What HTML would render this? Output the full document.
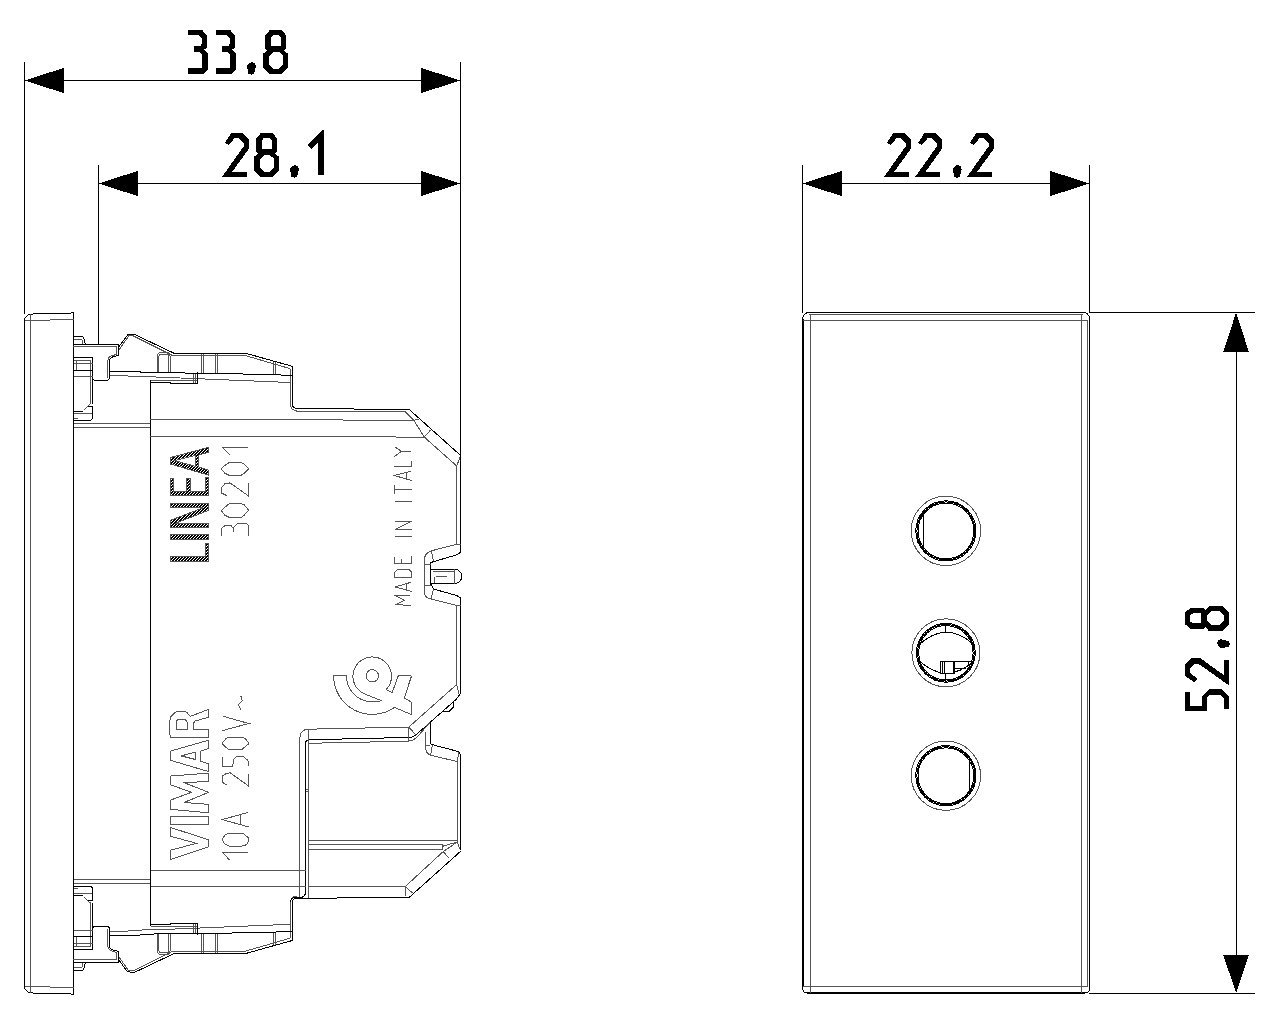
<!DOCTYPE html><html><head><meta charset="utf-8"><title>drawing</title><style>html,body{margin:0;padding:0;background:#fff;width:1280px;height:1024px;overflow:hidden}svg{display:block;font-family:"Liberation Sans",sans-serif}</style></head><body>
<svg width="1280" height="1024" viewBox="0 0 1280 1024" shape-rendering="crispEdges">
<defs><pattern id="h" patternUnits="userSpaceOnUse" width="3.2" height="3.2"><path d="M-1,1 L1,-1 M0,3.2 L3.2,0 M2.2,4.2 L4.2,2.2" stroke="#000" stroke-width="1.05"/></pattern></defs>
<rect width="1280" height="1024" fill="#fff"/>
<path d="M24.5,62 L24.5,313.5" stroke="#000" stroke-width="1" fill="none" />
<path d="M460.5,62 L460.5,456" stroke="#000" stroke-width="1" fill="none" />
<path d="M40,80.5 L445,80.5" stroke="#000" stroke-width="1.0" fill="none" />
<path d="M24.50,80.50 L63.80,67.90 L63.80,93.10 Z" fill="#000"/>
<path d="M460.50,80.50 L421.00,67.90 L421.00,93.10 Z" fill="#000"/>
<path d="M188.00,29.90 L202.00,29.90 L207.00,35.30 L207.00,47.50 L203.90,49.60 L207.90,53.10 L207.90,69.50 L203.90,73.90 L188.00,73.90 L188.00,68.10 L202.00,68.10 L202.00,55.00 L199.20,52.20 L194.10,52.20 L194.10,46.10 L200.10,46.10 L201.60,44.20 L201.60,38.10 L198.70,34.80 L188.00,34.80 Z" fill="#000" fill-rule="evenodd"/>
<path d="M216.00,29.90 L230.00,29.90 L235.00,35.30 L235.00,47.50 L231.90,49.60 L235.90,53.10 L235.90,69.50 L231.90,73.90 L216.00,73.90 L216.00,68.10 L230.00,68.10 L230.00,55.00 L227.20,52.20 L222.10,52.20 L222.10,46.10 L228.10,46.10 L229.60,44.20 L229.60,38.10 L226.70,34.80 L216.00,34.80 Z" fill="#000" fill-rule="evenodd"/>
<path d="M247.00,65.30 L251.20,62.00 L255.00,63.00 L255.90,66.20 L255.00,70.00 L254.00,73.70 L251.70,74.90 L248.40,73.70 L247.50,69.00 Z" fill="#000" fill-rule="evenodd"/>
<path d="M269.90,30.00 L282.05,30.00 L286.10,35.60 L286.10,48.30 L284.00,50.60 L288.10,53.90 L288.10,67.60 L282.05,73.90 L269.90,73.90 L263.00,67.60 L263.00,53.90 L267.10,50.60 L265.30,48.30 L265.30,35.60 Z M270.90,38.10 L272.90,34.90 L279.00,34.90 L281.00,38.10 L281.00,45.80 L270.90,45.80 Z M268.80,56.50 L273.40,51.90 L278.90,51.90 L283.10,55.90 L283.10,64.50 L278.90,68.60 L273.40,68.60 L268.80,64.50 Z" fill="#000" fill-rule="evenodd"/>
<path d="M98.5,165 L98.5,344.5" stroke="#000" stroke-width="1" fill="none" />
<path d="M110,183.5 L445,183.5" stroke="#000" stroke-width="1.0" fill="none" />
<path d="M98.50,183.50 L137.80,170.90 L137.80,196.10 Z" fill="#000"/>
<path d="M460.50,183.50 L421.00,170.90 L421.00,196.10 Z" fill="#000"/>
<path d="M231.30,133.00 L242.50,133.00 L249.10,139.30 L249.10,148.40 L231.90,172.30 L247.10,172.30 L247.10,176.90 L222.00,176.90 L243.60,146.40 L243.60,142.90 L238.60,138.10 L234.50,138.10 L228.60,145.30 L225.00,142.60 Z" fill="#000" fill-rule="evenodd"/>
<path d="M260.80,133.00 L272.95,133.00 L277.00,138.60 L277.00,151.30 L274.90,153.60 L279.00,156.90 L279.00,170.60 L272.95,176.90 L260.80,176.90 L253.90,170.60 L253.90,156.90 L258.00,153.60 L256.20,151.30 L256.20,138.60 Z M261.80,141.10 L263.80,137.90 L269.90,137.90 L271.90,141.10 L271.90,148.80 L261.80,148.80 Z M259.70,159.50 L264.30,154.90 L269.80,154.90 L274.00,158.90 L274.00,167.50 L269.80,171.60 L264.30,171.60 L259.70,167.50 Z" fill="#000" fill-rule="evenodd"/>
<path d="M290.00,168.30 L294.20,165.00 L298.00,166.00 L298.90,169.20 L298.00,173.00 L297.00,176.70 L294.70,177.90 L291.40,176.70 L290.50,172.00 Z" fill="#000" fill-rule="evenodd"/>
<path d="M322.40,130.00 L324.10,130.00 L324.10,174.80 L317.90,174.80 L317.90,142.90 L311.40,148.70 L308.00,145.00 Z" fill="#000" fill-rule="evenodd"/>
<path d="M802.5,165 L802.5,312.5" stroke="#000" stroke-width="1" fill="none" />
<path d="M1089.5,165 L1089.5,312.5 L1255,312.5" stroke="#000" stroke-width="1" fill="none" />
<path d="M815,183.5 L1075,183.5" stroke="#000" stroke-width="1.0" fill="none" />
<path d="M802.50,183.50 L841.80,170.90 L841.80,196.10 Z" fill="#000"/>
<path d="M1089.50,183.50 L1050.20,170.90 L1050.20,196.10 Z" fill="#000"/>
<path d="M893.30,133.00 L904.50,133.00 L911.10,139.30 L911.10,148.40 L893.90,172.30 L909.10,172.30 L909.10,176.90 L884.00,176.90 L905.60,146.40 L905.60,142.90 L900.60,138.10 L896.50,138.10 L890.60,145.30 L887.00,142.60 Z" fill="#000" fill-rule="evenodd"/>
<path d="M924.50,133.00 L935.70,133.00 L942.30,139.30 L942.30,148.40 L925.10,172.30 L940.30,172.30 L940.30,176.90 L915.20,176.90 L936.80,146.40 L936.80,142.90 L931.80,138.10 L927.70,138.10 L921.80,145.30 L918.20,142.60 Z" fill="#000" fill-rule="evenodd"/>
<path d="M952.80,168.30 L957.00,165.00 L960.80,166.00 L961.70,169.20 L960.80,173.00 L959.80,176.70 L957.50,177.90 L954.20,176.70 L953.30,172.00 Z" fill="#000" fill-rule="evenodd"/>
<path d="M976.30,133.00 L987.50,133.00 L994.10,139.30 L994.10,148.40 L976.90,172.30 L992.10,172.30 L992.10,176.90 L967.00,176.90 L988.60,146.40 L988.60,142.90 L983.60,138.10 L979.50,138.10 L973.60,145.30 L970.00,142.60 Z" fill="#000" fill-rule="evenodd"/>
<path d="M1089,993 L1255,993" stroke="#000" stroke-width="1" fill="none" />
<path d="M1236.5,330 L1236.5,975" stroke="#000" stroke-width="1.0" fill="none" />
<path d="M1236.10,312.50 L1223.35,351.80 L1248.85,351.80 Z" fill="#000"/>
<path d="M1236.10,993.00 L1223.35,955.20 L1248.85,955.20 Z" fill="#000"/>
<g transform="matrix(0,-1,1,0,1185.1,710.75)">
<path d="M0.00,0.00 L18.50,0.00 L18.50,4.80 L4.80,4.80 L4.80,16.90 L14.20,16.90 L21.75,24.20 L21.75,36.50 L14.20,43.80 L1.90,43.80 L1.90,38.90 L12.60,38.90 L15.85,35.70 L15.85,24.90 L12.60,21.70 L0.00,21.70 Z" fill="#000" fill-rule="evenodd"/>
<path d="M34.65,0.00 L45.85,0.00 L52.45,6.30 L52.45,15.40 L35.25,39.30 L50.45,39.30 L50.45,43.90 L25.35,43.90 L46.95,13.40 L46.95,9.90 L41.95,5.10 L37.85,5.10 L31.95,12.30 L28.35,9.60 Z" fill="#000" fill-rule="evenodd"/>
<path d="M62.60,35.30 L66.80,32.00 L70.60,33.00 L71.50,36.20 L70.60,40.00 L69.60,43.70 L67.30,44.90 L64.00,43.70 L63.10,39.00 Z" fill="#000" fill-rule="evenodd"/>
<path d="M86.45,0.00 L98.60,0.00 L102.65,5.60 L102.65,18.30 L100.55,20.60 L104.65,23.90 L104.65,37.60 L98.60,43.90 L86.45,43.90 L79.55,37.60 L79.55,23.90 L83.65,20.60 L81.85,18.30 L81.85,5.60 Z M87.45,8.10 L89.45,4.90 L95.55,4.90 L97.55,8.10 L97.55,15.80 L87.45,15.80 Z M85.35,26.50 L89.95,21.90 L95.45,21.90 L99.65,25.90 L99.65,34.50 L95.45,38.60 L89.95,38.60 L85.35,34.50 Z" fill="#000" fill-rule="evenodd"/>
</g>
<path d="M802.8,318.4 A6,6 0 0 1 808.8,312.5 L1083.4,312.5 A6,6 0 0 1 1089.5,318.5 L1089.5,988.5 A4.5,4.5 0 0 1 1085,993 L807,993 A4.5,4.5 0 0 1 802.8,988.5 Z" stroke="#000" stroke-width="1" fill="none" />
<path d="M806,992 L1085,992" stroke="#000" stroke-width="1" fill="none" />
<path d="M803.5,319 L803.5,987" stroke="#000" stroke-width="1" fill="none" />
<path d="M809,314.5 L1083,314.5" stroke="#555" stroke-width="1" fill="none" />
<path d="M803,320.5 L1087.5,320.5" stroke="#555" stroke-width="1" fill="none" />
<path d="M803,986.5 L1087.5,986.5" stroke="#555" stroke-width="1" fill="none" />
<path d="M810.5,314.5 L810.5,992.5" stroke="#555" stroke-width="1" fill="none" />
<path d="M1081.5,314.5 L1081.5,992.5" stroke="#555" stroke-width="1" fill="none" />
<path d="M1087.5,320 L1087.5,987" stroke="#555" stroke-width="1" fill="none" />
<circle cx="945.9" cy="530.9" r="34.7" fill="none" stroke="#555" stroke-width="1"/>
<circle cx="945.9" cy="530.9" r="30.10" fill="none" stroke="#000" stroke-width="1"/>
<circle cx="945.9" cy="530.9" r="29.00" fill="none" stroke="#000" stroke-width="1"/>
<circle cx="945.9" cy="530.9" r="27.90" fill="none" stroke="#000" stroke-width="1"/>
<circle cx="945.9" cy="652.8" r="34.0" fill="none" stroke="#555" stroke-width="1"/>
<circle cx="945.9" cy="652.8" r="29.40" fill="none" stroke="#000" stroke-width="1"/>
<circle cx="945.9" cy="652.8" r="28.30" fill="none" stroke="#000" stroke-width="1"/>
<circle cx="945.9" cy="652.8" r="27.20" fill="none" stroke="#000" stroke-width="1"/>
<circle cx="945.9" cy="775.7" r="34.7" fill="none" stroke="#555" stroke-width="1"/>
<circle cx="945.9" cy="775.7" r="30.10" fill="none" stroke="#000" stroke-width="1"/>
<circle cx="945.9" cy="775.7" r="29.00" fill="none" stroke="#000" stroke-width="1"/>
<circle cx="945.9" cy="775.7" r="27.90" fill="none" stroke="#000" stroke-width="1"/>
<path d="M923.3,513.3 L923.3,547.6" stroke="#000" stroke-width="1" fill="none" />
<path d="M969,758.6 L969,792.4" stroke="#000" stroke-width="1" fill="none" />
<path d="M917.6,646 Q945.7,619 974.3,645.1" stroke="#000" stroke-width="1.0" fill="none" />
<path d="M917.6,659.2 Q945.7,686.6 974.3,660.5" stroke="#000" stroke-width="1.0" fill="none" />
<path d="M945.5,626.3 L945.5,632.4" stroke="#000" stroke-width="1" fill="none" />
<path d="M945.5,673.3 L945.5,681.2" stroke="#000" stroke-width="1" fill="none" />
<path d="M940.5,661.2 L954.5,661.2 L954.5,673.3 L940.5,673.3 Z" stroke="#000" stroke-width="1.0" fill="#fff" />
<path d="M942.3,662 L942.3,673 M944,662 L944,673 M953,662 L953,673" stroke="#000" stroke-width="1" fill="none" />
<path d="M954.5,661.2 L970.7,661.2 M968.1,661.2 L968.1,665.4 M954.5,668.4 L965.5,668.4" stroke="#000" stroke-width="1" fill="none" />
<g stroke-linejoin="round">
<path d="M24.5,653.4 L24.5,318.5 L28.5,314.5 L33,314.5 M33,313.5 L71,313.5 M71,312.5 L73.5,312.5 L73.5,653.4" stroke="#000" stroke-width="1" fill="none" />
<path d="M30.5,653.4 L30.5,314" stroke="#555" stroke-width="1" fill="none" />
<path d="M24.8,320.5 L50,320.5 M50,319.5 L73.5,319.5" stroke="#555" stroke-width="1" fill="none" />
<path d="M73.5,336.3 L82.5,336.3 L84.5,339.5 L85.3,344.3" stroke="#000" stroke-width="1" fill="none" />
<path d="M73.5,339.5 L82,339.5 L82.3,344" stroke="#555" stroke-width="1" fill="none" />
<path d="M73.5,344.3 L118,344.3 L118,355.5 L111.5,357.3 Q109.6,358.3 109.6,361 L109.6,378.5 L107.9,380.3 L94,380.3 L92.5,378" stroke="#000" stroke-width="1" fill="none" />
<path d="M73.5,346.8 L116.8,347 L116.8,354.3 L110.3,356.3 Q107.9,357.6 107.9,360.5 L107.9,378" stroke="#555" stroke-width="1" fill="none" />
<path d="M73.5,357.8 L92.5,357.8 L92.5,403.7" stroke="#000" stroke-width="1" fill="none" />
<path d="M73.5,360.6 L90.4,360.6 L90.4,403.7 L84,410" stroke="#555" stroke-width="1" fill="none" />
<path d="M76.3,360.6 L76.3,370.6 M73.5,363.4 L92.5,363.4" stroke="#555" stroke-width="1" fill="none" />
<path d="M73.5,370.7 L92.5,370.7" stroke="#000" stroke-width="1" fill="none" />
<path d="M73.5,376.2 L92.5,376.2" stroke="#555" stroke-width="1" fill="none" />
<path d="M88.4,406.3 L92.3,406.3 L92.3,418.8 L90.8,420.4 L73.5,420.4" stroke="#000" stroke-width="1" fill="none" />
<path d="M73.5,411.4 L83,411.4" stroke="#000" stroke-width="1" fill="none" />
<path d="M73.5,413.4 L92.3,413.4" stroke="#555" stroke-width="1" fill="none" />
<path d="M73.5,418.4 L77.5,418.4" stroke="#555" stroke-width="1" fill="none" />
<path d="M73.5,423.5 L150.5,423.5" stroke="#555" stroke-width="1" fill="none" />
<path d="M73.5,427.4 L150.5,427.4" stroke="#555" stroke-width="1" fill="none" />
<path d="M118,348 L127.5,335 L134.4,334.4 L173.75,353.1 L245,353.1 L292.3,366.3 L292.3,404.5 Q292.6,408.3 296.5,408.3 L409.5,409.7 L460.5,455.4" stroke="#000" stroke-width="1" fill="none" />
<path d="M119,349.8 L128.8,335.8 L133.5,336 L172.5,355.5 L245,355.5 L290,368.6 L290,403 Q290.5,410.6 296.5,410.6" stroke="#555" stroke-width="1" fill="none" />
<path d="M157.5,372.5 L157.5,355.5 Q157.5,352.5 160.5,352.5 L167,352.5 Q170,352.5 170,355.5 L170,372.5" stroke="#555" stroke-width="1" fill="none" />
<path d="M158.9,372.5 L158.9,356 Q159,354.2 161,354.2 L166.5,354.2 Q168.7,354.2 168.7,356 L168.7,372.5" stroke="#555" stroke-width="1" fill="none" />
<path d="M201.3,353.5 L201.3,373 M203,353.5 L203,373 M215,353.5 L215,373 M217,353.5 L217,373" stroke="#555" stroke-width="1" fill="none" />
<path d="M273,362 L273,375 M275,362 L275,375" stroke="#555" stroke-width="1" fill="none" />
<path d="M109.5,371.6 L140,371.6 L141,372.7 L198,373.1 L272.5,374.6 L292.3,375.6" stroke="#000" stroke-width="1" fill="none" />
<path d="M109.5,375.5 L127.5,375.5 L128.5,376.6 L156,377 L290,382.5" stroke="#555" stroke-width="1" fill="none" />
<path d="M150.5,653.4 L150.5,380.4" stroke="#000" stroke-width="1" fill="none" />
<path d="M150.5,380.4 L196.8,380.4" stroke="#555" stroke-width="1" fill="none" />
<path d="M150.5,382.6 L170.6,382.6 L170.6,383.4 L197.3,383.4 L197.3,372.2" stroke="#000" stroke-width="1" fill="none" />
<path d="M193.8,373.5 L193.8,383 M195.6,373.5 L195.6,383" stroke="#555" stroke-width="1" fill="none" />
<g transform="matrix(1,0,0,-1,0,1306.8)">
<path d="M24.5,653.4 L24.5,318.5 L28.5,314.5 L33,314.5 M33,313.5 L71,313.5 M71,312.5 L73.5,312.5 L73.5,653.4" stroke="#000" stroke-width="1" fill="none" />
<path d="M30.5,653.4 L30.5,314" stroke="#555" stroke-width="1" fill="none" />
<path d="M24.8,320.5 L50,320.5 M50,319.5 L73.5,319.5" stroke="#555" stroke-width="1" fill="none" />
<path d="M73.5,336.3 L82.5,336.3 L84.5,339.5 L85.3,344.3" stroke="#000" stroke-width="1" fill="none" />
<path d="M73.5,339.5 L82,339.5 L82.3,344" stroke="#555" stroke-width="1" fill="none" />
<path d="M73.5,344.3 L118,344.3 L118,355.5 L111.5,357.3 Q109.6,358.3 109.6,361 L109.6,378.5 L107.9,380.3 L94,380.3 L92.5,378" stroke="#000" stroke-width="1" fill="none" />
<path d="M73.5,346.8 L116.8,347 L116.8,354.3 L110.3,356.3 Q107.9,357.6 107.9,360.5 L107.9,378" stroke="#555" stroke-width="1" fill="none" />
<path d="M73.5,357.8 L92.5,357.8 L92.5,403.7" stroke="#000" stroke-width="1" fill="none" />
<path d="M73.5,360.6 L90.4,360.6 L90.4,403.7 L84,410" stroke="#555" stroke-width="1" fill="none" />
<path d="M76.3,360.6 L76.3,370.6 M73.5,363.4 L92.5,363.4" stroke="#555" stroke-width="1" fill="none" />
<path d="M73.5,370.7 L92.5,370.7" stroke="#000" stroke-width="1" fill="none" />
<path d="M73.5,376.2 L92.5,376.2" stroke="#555" stroke-width="1" fill="none" />
<path d="M88.4,406.3 L92.3,406.3 L92.3,418.8 L90.8,420.4 L73.5,420.4" stroke="#000" stroke-width="1" fill="none" />
<path d="M73.5,411.4 L83,411.4" stroke="#000" stroke-width="1" fill="none" />
<path d="M73.5,413.4 L92.3,413.4" stroke="#555" stroke-width="1" fill="none" />
<path d="M73.5,418.4 L77.5,418.4" stroke="#555" stroke-width="1" fill="none" />
<path d="M73.5,423.5 L150.5,423.5" stroke="#555" stroke-width="1" fill="none" />
<path d="M73.5,427.4 L150.5,427.4" stroke="#555" stroke-width="1" fill="none" />
<path d="M118,348 L127.5,335 L134.4,334.4 L173.75,353.1 L245,353.1 L292.3,366.3 L292.3,404.5 Q292.6,408.3 296.5,408.3 L409.5,409.7 L460.5,455.4" stroke="#000" stroke-width="1" fill="none" />
<path d="M119,349.8 L128.8,335.8 L133.5,336 L172.5,355.5 L245,355.5 L290,368.6 L290,403 Q290.5,410.6 296.5,410.6" stroke="#555" stroke-width="1" fill="none" />
<path d="M157.5,372.5 L157.5,355.5 Q157.5,352.5 160.5,352.5 L167,352.5 Q170,352.5 170,355.5 L170,372.5" stroke="#555" stroke-width="1" fill="none" />
<path d="M158.9,372.5 L158.9,356 Q159,354.2 161,354.2 L166.5,354.2 Q168.7,354.2 168.7,356 L168.7,372.5" stroke="#555" stroke-width="1" fill="none" />
<path d="M201.3,353.5 L201.3,373 M203,353.5 L203,373 M215,353.5 L215,373 M217,353.5 L217,373" stroke="#555" stroke-width="1" fill="none" />
<path d="M273,362 L273,375 M275,362 L275,375" stroke="#555" stroke-width="1" fill="none" />
<path d="M109.5,371.6 L140,371.6 L141,372.7 L198,373.1 L272.5,374.6 L292.3,375.6" stroke="#000" stroke-width="1" fill="none" />
<path d="M109.5,375.5 L127.5,375.5 L128.5,376.6 L156,377 L290,382.5" stroke="#555" stroke-width="1" fill="none" />
<path d="M150.5,653.4 L150.5,380.4" stroke="#000" stroke-width="1" fill="none" />
<path d="M150.5,380.4 L196.8,380.4" stroke="#555" stroke-width="1" fill="none" />
<path d="M150.5,382.6 L170.6,382.6 L170.6,383.4 L197.3,383.4 L197.3,372.2" stroke="#000" stroke-width="1" fill="none" />
<path d="M193.8,373.5 L193.8,383 M195.6,373.5 L195.6,383" stroke="#555" stroke-width="1" fill="none" />
</g>
<path d="M296,411.8 L405.3,411.8 L413.8,420.2 L424.3,437.1 L456.7,466 L456.7,544.4" stroke="#555" stroke-width="1" fill="none" />
<path d="M413.8,420.2 L419.4,419.5 M424.3,437.1 L430.6,430 M456.7,466 L460.5,456" stroke="#555" stroke-width="1" fill="none" />
<path d="M150.5,419.5 L413.8,420.2" stroke="#555" stroke-width="1" fill="none" />
<path d="M150.5,436.2 L424.3,437.1" stroke="#555" stroke-width="1" fill="none" />
<path d="M460.5,455.4 L460.5,552.2 L457,554.7 L430.8,562.5 L430.8,584 L433.4,589 L457.1,595.7 L460.5,598 L460.5,693.6" stroke="#000" stroke-width="1" fill="none" />
<path d="M456.7,544.4 L431.3,550.8 Q424.4,553 424.4,560 L424.4,592 Q424.8,598.5 431,599 L456.7,605.5 L456.7,684.5" stroke="#555" stroke-width="1" fill="none" />
<path d="M431.3,550.8 L433.5,561 M424.4,564.6 L430.8,564.6 M424.4,585 L430.8,585 M431,599 L433.5,589" stroke="#555" stroke-width="1" fill="none" />
<path d="M456.7,544.4 L460.5,544.4 M456.7,605.6 L460.5,605.6" stroke="#555" stroke-width="1" fill="none" />
<path d="M430.8,569.3 L454.7,569.3 A7.1,7.1 0 0 1 454.7,583.5 L430.8,583.5" stroke="#000" stroke-width="1" fill="none" />
<path d="M433,571.3 L454.7,571.3 M436,576.6 L447,576.6 M454.7,569.3 L454.7,583.5 M434.7,577 L434.7,583" stroke="#555" stroke-width="1" fill="none" />
<path d="M460.5,693.6 L455.9,699.6 L415.9,734.9 Q413,737.3 410.3,737.4 L308.3,739.8 Q305.6,740.2 305.6,743 L305.6,892.3 Q305.3,897.3 300,897.5 L294,897.5 Q291,898.5 290.4,901.5" stroke="#000" stroke-width="1" fill="none" />
<path d="M299.8,897 L299.8,737.7 Q300.2,729.6 308.3,729.2 L408.8,727.1 L456.7,684.5 M456.7,684.5 L459.1,694.2" stroke="#555" stroke-width="1" fill="none" />
<path d="M408.8,727.1 L408.8,741.2 M408.8,727.1 L415.9,734.9" stroke="#555" stroke-width="1" fill="none" />
<path d="M308.3,897.5 L308.3,729.2 M308.3,743.3 L408.1,741.2 L412.4,740.5 L417.3,737 L426.4,726.4 L430,722.2" stroke="#555" stroke-width="1" fill="none" />
<path d="M430,722 L430,741.9 Q430.5,744.2 432.5,744.7 L458.8,751.7 L460.5,755 L460.5,850" stroke="#000" stroke-width="1" fill="none" />
<path d="M425,732 L425,746 Q426,754 430.6,755.2 L457.4,761.6 L457.4,842" stroke="#555" stroke-width="1" fill="none" />
<path d="M425,746 L430,745 M432.5,744.7 L430.6,755.2 M457.4,761.6 L458.8,751.7" stroke="#555" stroke-width="1" fill="none" />
<path d="M441.9,711.6 L448.9,711.6 L453.1,707.4 L453.1,701.1" stroke="#000" stroke-width="1" fill="none" />
<path d="M305.6,789 L308.3,789 M305.6,791.5 L308.3,791.5" stroke="#555" stroke-width="1" fill="none" />
<path d="M308.3,840.8 L457.4,840.8" stroke="#555" stroke-width="1" fill="none" />
<path d="M308.3,844.8 L442.5,844.8 M308.3,849.3 L442.5,849.3 M442.5,844.8 L442.5,849.3 M442.5,846.3 L457.4,841.9" stroke="#555" stroke-width="1" fill="none" />
<path d="M308.3,886.4 L405.4,886.4 L443.3,851.5 L457.4,841.9" stroke="#555" stroke-width="1" fill="none" />
<path d="M405.4,886.4 L405.4,896 M405.4,886.4 L412.4,893 M443.3,851.5 L448.4,857.6 M457.4,841.9 L459.5,849" stroke="#555" stroke-width="1" fill="none" />
<path d="M150.5,870.5 L305.6,870.5 M150.5,886.4 L305.6,886.4" stroke="#555" stroke-width="1" fill="none" />
</g>
<circle cx="372.3" cy="675.8" r="6.2" fill="none" stroke="#555" stroke-width="1"/>
<path d="M386.3,689.5 A19.3,19.3 0 1 0 363.3,693.4 L380.9,700.4 L378.9,701.6 L368.4,701.6 A25.8,25.8 0 0 1 346.5,675.4 L333.6,675.4 A38.7,38.7 0 0 0 394.5,707.4 L411.3,714.5 L411.3,702 L404.3,698 L411.3,676.6 L410.9,675.4 L398.4,675.4 L392.2,692.6 Z" stroke="#555" stroke-width="1" fill="none" />
<path d="M395.2,447.1 L401.4,451.4 L394.4,456.5 M401.4,451.4 L410.8,451.4" stroke="#555" stroke-width="1" fill="none" />
<path d="M411.6,461.2 L411.6,466.6 L394.4,466.6" stroke="#555" stroke-width="1" fill="none" />
<path d="M410.8,471.3 L394.4,475.5 L412,480.7 M406.5,472.4 L406.5,479" stroke="#555" stroke-width="1" fill="none" />
<path d="M394.4,485 L394.4,493.6 M394.4,489.3 L412,489.3" stroke="#555" stroke-width="1" fill="none" />
<path d="M395.2,501.4 L412,501.4" stroke="#555" stroke-width="1" fill="none" />
<path d="M411.8,529.4 L395.2,529.4 L411.8,521.3 L395.2,521.3" stroke="#555" stroke-width="1" fill="none" />
<path d="M395.2,536.3 L411.8,536.3" stroke="#555" stroke-width="1" fill="none" />
<path d="M394.3,556.5 L394.3,563.3 L411.8,563.3 M401.4,559.2 L401.4,563.3 M411.5,556 L411.5,563.3" stroke="#555" stroke-width="1" fill="none" />
<path d="M394.3,577 L394.3,572.6 L397.7,569.1 L408.4,569.1 L411.5,572.1 L411.5,577 Z" stroke="#555" stroke-width="1" fill="none" />
<path d="M410.9,582.3 L395.2,586.9 L411.8,591.6 M406,583.8 L406,589.6" stroke="#555" stroke-width="1" fill="none" />
<path d="M410.9,595 L395.2,595.5 L404.5,600.4 L395.2,604.8 L410.9,605.2" stroke="#555" stroke-width="1" fill="none" />
<path d="M247.7,447.3 L222.3,447.3 L229.6,454.6" stroke="#555" stroke-width="1" fill="none" />
<path d="M221.3,468.8 L224.8,465.4 L229.6,462.4 L241.3,462.4 L244.3,464.4 L248.7,468.8 L244.3,473.2 L241.3,475.1 L228.7,475.1 L224.8,473.2 Z" stroke="#555" stroke-width="1" fill="none" />
<path d="M226.7,495.6 L221.8,493.2 L221.3,487.8 L224.8,483.9 L230.1,482.9 L248.7,496.1 L248.7,482.9" stroke="#555" stroke-width="1" fill="none" />
<path d="M221.3,510.7 L224.8,507.3 L229.6,503.4 L240.9,503.4 L244.3,504.9 L248.7,510.2 L244.3,515.1 L240.9,517.6 L229.6,517.6 L224.8,515.1 Z" stroke="#555" stroke-width="1" fill="none" />
<path d="M221.3,535.6 L221.3,528.3 L225.2,525.4 L231.1,525.4 L233,528.3 L233,531.7 M233,528.3 L236.95,523.9 L246.7,523.9 L248.7,525.9 L248.7,535.6" stroke="#555" stroke-width="1" fill="none" />
<path d="M248,852.3 L222.3,852.3 L229.5,859.9" stroke="#555" stroke-width="1" fill="none" />
<path d="M222.3,839.4 L225.5,834.2 L230.8,833.5 L243.3,833.5 L248,837.4 L248.6,840.7 L246.6,844.7 L242,846 L228.8,846 L224.2,843.4 Z" stroke="#555" stroke-width="1" fill="none" />
<path d="M248,812.4 L222.3,819.6 L248.6,826.9 M240,814.6 L240,824.5" stroke="#555" stroke-width="1" fill="none" />
<path d="M227.5,785.4 L222.9,782.7 L222.3,776.1 L226.2,773.5 L230.2,772.8 L248.6,786 L248.6,774.2" stroke="#555" stroke-width="1" fill="none" />
<path d="M222.3,757 L222.3,766.3 L232.8,766.3 L233.5,759.7 L236.8,756.4 L243.3,756.4 L248,760.5 L248.6,766.3" stroke="#555" stroke-width="1" fill="none" />
<path d="M222.2,743.3 L226.3,738.2 L228.3,737.2 L242.7,737.2 L245.1,738.5 L248.5,742.6 L248.5,744 L243,748.5 L241.7,749.5 L229.4,749.5 L227.3,748.5 L222.2,744 Z" stroke="#555" stroke-width="1" fill="none" />
<path d="M223.2,716.3 L248.8,723.5 L222.2,730.7" stroke="#555" stroke-width="1" fill="none" />
<path d="M240.3,696.2 L241.7,697.2 L241.7,699.6 L242.7,700.6 L238.2,704.7 L239.3,706.8 L240.6,709.5" stroke="#555" stroke-width="1" fill="none" />
<path d="M170.1,737.5 L208.75,737.5 L208.75,729.3 L193.5,729.3 L193.5,723.05 L195.1,721.1 L208.4,717.2 L208.4,709.4 L190.4,716.4 L186.5,712.1 L183.75,711.3 L177.5,711.3 L175.2,712.5 L170.9,716.8 L169.3,721.9 L169.3,733.6 L170.1,735.5 Z" stroke="#555" stroke-width="1" fill="none" />
<path d="M176.3,729.3 L187.7,729.3 L187.7,723.8 L186.5,721.1 L184.5,719.1 L178.3,719.1 L176.7,720.7 L176.3,723 Z" stroke="#555" stroke-width="1" fill="none" />
<path d="M208.4,740.2 L208.4,748.4 L200.5,751.2 L200.5,761.3 L208.4,763.7 L208.4,771.5 L170.1,760.2 L170.1,751.2 Z" stroke="#555" stroke-width="1" fill="none" />
<path d="M195.1,752.3 L195.1,759.4 L181,755.9 Z" stroke="#555" stroke-width="1" fill="none" />
<path d="M170.6,776 L208.1,773.2 L208.1,781.6 L183.6,782.5 L208.6,792.3 L184,802.5 L208.1,804.3 L208.1,812.7 L170.6,809.4 L170.6,800.1 L191.4,792.3 L170.6,784.8 Z" stroke="#555" stroke-width="1" fill="none" />
<path d="M170.1,816.4 L208.6,816.4 L208.6,824.3 L170.1,824.3 Z" stroke="#555" stroke-width="1" fill="none" />
<path d="M170.6,827.5 L208.1,839.6 L208.1,847 L170.6,859.5 L170.6,850.2 L196.5,843.3 L170.6,836.3 Z" stroke="#555" stroke-width="1" fill="none" />
<clipPath id="lc"><path d="M170.10,556.25 L205.20,556.25 L205.20,543.90 L208.75,543.90 L208.75,561.70 L170.10,561.70 Z M170.10,534.10 L208.75,534.10 L208.75,539.80 L170.10,539.80 Z M170.10,527.90 L208.75,527.90 L208.75,523.20 L175.50,523.20 L208.75,510.30 L208.75,503.30 L170.10,503.30 L170.10,507.80 L203.00,507.80 L170.10,520.50 Z M170.30,495.70 L208.70,495.70 L208.70,477.20 L205.40,477.20 L205.40,491.00 L190.50,491.00 L190.50,478.10 L186.10,478.10 L186.10,491.00 L173.80,491.00 L173.80,478.10 L170.30,478.10 Z M170.30,457.60 L208.70,447.30 L208.70,452.30 L198.70,455.00 L198.70,466.80 L208.70,470.20 L208.70,475.20 L170.30,464.00 Z M174.80,460.60 L195.50,455.40 L195.50,466.40 Z" clip-rule="evenodd"/></clipPath>
<path d="M168,445.50 L210,403.50 M168,448.50 L210,406.50 M168,451.50 L210,409.50 M168,454.50 L210,412.50 M168,457.50 L210,415.50 M168,460.50 L210,418.50 M168,463.50 L210,421.50 M168,466.50 L210,424.50 M168,469.50 L210,427.50 M168,472.50 L210,430.50 M168,475.50 L210,433.50 M168,478.50 L210,436.50 M168,481.50 L210,439.50 M168,484.50 L210,442.50 M168,487.50 L210,445.50 M168,490.50 L210,448.50 M168,493.50 L210,451.50 M168,496.50 L210,454.50 M168,499.50 L210,457.50 M168,502.50 L210,460.50 M168,505.50 L210,463.50 M168,508.50 L210,466.50 M168,511.50 L210,469.50 M168,514.50 L210,472.50 M168,517.50 L210,475.50 M168,520.50 L210,478.50 M168,523.50 L210,481.50 M168,526.50 L210,484.50 M168,529.50 L210,487.50 M168,532.50 L210,490.50 M168,535.50 L210,493.50 M168,538.50 L210,496.50 M168,541.50 L210,499.50 M168,544.50 L210,502.50 M168,547.50 L210,505.50 M168,550.50 L210,508.50 M168,553.50 L210,511.50 M168,556.50 L210,514.50 M168,559.50 L210,517.50 M168,562.50 L210,520.50 M168,565.50 L210,523.50 M168,568.50 L210,526.50 M168,571.50 L210,529.50 M168,574.50 L210,532.50 M168,577.50 L210,535.50 M168,580.50 L210,538.50 M168,583.50 L210,541.50 M168,586.50 L210,544.50 M168,589.50 L210,547.50 M168,592.50 L210,550.50 M168,595.50 L210,553.50 M168,598.50 L210,556.50 M168,601.50 L210,559.50 M168,604.50 L210,562.50" stroke="#000" stroke-width="1" clip-path="url(#lc)"/>
<path d="M170.10,556.25 L205.20,556.25 L205.20,543.90 L208.75,543.90 L208.75,561.70 L170.10,561.70 Z M170.10,534.10 L208.75,534.10 L208.75,539.80 L170.10,539.80 Z M170.10,527.90 L208.75,527.90 L208.75,523.20 L175.50,523.20 L208.75,510.30 L208.75,503.30 L170.10,503.30 L170.10,507.80 L203.00,507.80 L170.10,520.50 Z M170.30,495.70 L208.70,495.70 L208.70,477.20 L205.40,477.20 L205.40,491.00 L190.50,491.00 L190.50,478.10 L186.10,478.10 L186.10,491.00 L173.80,491.00 L173.80,478.10 L170.30,478.10 Z M170.30,457.60 L208.70,447.30 L208.70,452.30 L198.70,455.00 L198.70,466.80 L208.70,470.20 L208.70,475.20 L170.30,464.00 Z M174.80,460.60 L195.50,455.40 L195.50,466.40 Z" stroke="#555" stroke-width="1" fill="none" fill-rule="evenodd"/>
</svg></body></html>
